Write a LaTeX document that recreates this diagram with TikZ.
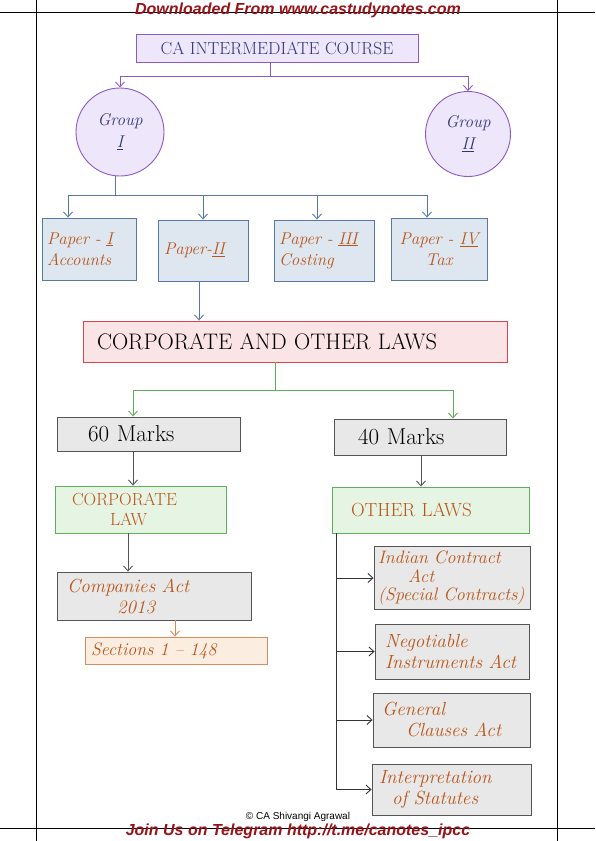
\documentclass[tikz,border=0pt]{standalone}
\usepackage{fontspec}
\usepackage{xcolor}
\newfontfamily\webfont{Liberation Sans}
\usetikzlibrary{calc,arrows.meta}

\definecolor{headred}{RGB}{150,20,25}
\definecolor{courseline}{RGB}{140,90,200}
\definecolor{coursefill}{RGB}{238,230,250}
\definecolor{coursetext}{RGB}{45,55,120}
\definecolor{paperline}{RGB}{90,120,165}
\definecolor{paperfill}{RGB}{222,230,240}
\definecolor{inkbrown}{RGB}{185,85,25}
\definecolor{lawline}{RGB}{215,70,75}
\definecolor{lawfill}{RGB}{250,228,230}
\definecolor{greenline}{RGB}{95,175,90}
\definecolor{greenfill}{RGB}{230,244,228}
\definecolor{greyline}{RGB}{85,85,85}
\definecolor{greyfill}{RGB}{232,232,232}
\definecolor{peachline}{RGB}{215,140,90}
\definecolor{peachfill}{RGB}{252,237,225}

\begin{document}
\begin{tikzpicture}[x=1pt,y=-1pt,
    size/.style 2 args={minimum width=#1pt,minimum height=#2pt},
    sized/.style={font=\fontsize{#1}{#1}\selectfont},
    box/.style={draw,rectangle,line width=0.9pt,inner sep=4pt},
    coursebox/.style={box,draw=courseline,fill=coursefill,text=coursetext,sized=17.5},
    groupnode/.style={circle,draw=courseline,fill=coursefill,line width=0.9pt,text=coursetext,align=center,inner sep=0pt,font=\itshape\fontsize{17}{22}\selectfont},
    paperbox/.style={box,draw=paperline,fill=paperfill,text=inkbrown,font=\itshape\fontsize{17}{21}\selectfont},
    lawbox/.style={box,draw=lawline,fill=lawfill,sized=22.5},
    markbox/.style={box,draw=greyline,fill=greyfill,sized=23},
    greenbox/.style={box,draw=greenline,fill=greenfill,text=inkbrown,sized=19},
    actbox/.style={box,draw=greyline,fill=greyfill,text=inkbrown,font=\itshape\fontsize{19}{21}\selectfont},
    secbox/.style={box,draw=peachline,fill=peachfill,text=inkbrown,font=\itshape\fontsize{18}{20}\selectfont},
    link/.style={line width=0.9pt},
    tip/.style={-{Straight Barb[length=5pt,width=9pt]}},
    webtext/.style={text=headred,font=\webfont\bfseries\itshape\fontsize{16}{18}\selectfont}
  ]
  \useasboundingbox (0,0) rectangle (595,841);

  % page frame
  \draw[line width=0.6pt] (0,12) -- (595,12);
  \draw[line width=0.6pt] (0,828) -- (595,828);
  \draw[line width=0.6pt] (36,0) -- (36,841);
  \draw[line width=0.6pt] (557,0) -- (557,841);

  \node[webtext] (head) at (298,10) {Downloaded From www.castudynotes.com};
  \node[font=\webfont\fontsize{10}{11}\selectfont] (copy) at (298,817) {© CA Shivangi Agrawal};
  \node[webtext] (foot) at (298,831) {Join Us on Telegram http://t.me/canotes\_ipcc};

  % course and groups
  \node[coursebox, size={282}{28}] (course) at (277,48) {CA INTERMEDIATE COURSE};
  \node[groupnode, minimum size=88pt] (g1) at (120,132) {Group\\ \underline{I}};
  \node[groupnode, minimum size=85pt] (g2) at (468,134) {Group\\ \underline{II}};

  % papers
  \node[paperbox, size={94}{62}, text width=84pt, align=left] (p1) at (89,249) {Paper - \underline{I}\\Accounts};
  \node[paperbox, size={90}{61}, text width=78pt, align=left] (p2) at (203,250.5) {Paper-\underline{II}};
  \node[paperbox, size={100}{61}, text width=90pt, align=left] (p3) at (324,250.5) {Paper - \underline{III}\\Costing};
  \node[paperbox, size={96}{62}, align=center] (p4) at (439,249) {Paper - \underline{IV}\\Tax};

  \node[lawbox, size={424}{41}, text width=396pt, align=left] (corp) at (295,341.5) {CORPORATE AND OTHER LAWS};

  \node[markbox, size={183}{34}, text width=121pt, align=left] (m60) at (148.5,434) {60 Marks};
  \node[markbox, size={172}{36}, text width=124pt, align=left] (m40) at (420,437) {40 Marks};

  % corporate law side
  \node[greenbox, size={171}{47}, text width=137pt, align=left, font=\fontsize{17.5}{20}\selectfont] (cl) at (140.5,509.5) {CORPORATE\\\hspace*{38pt}LAW};
  \node[actbox, size={194}{48}, text width=174pt, align=left] (ca) at (154,596) {Companies Act\\\hspace*{50pt}2013};
  \node[secbox, size={182}{27}, text width=170pt, align=left] (sec) at (176,650.5) {Sections 1 -- 148};

  % other laws side
  \node[greenbox, size={197}{46}, text width=159pt, align=left] (ol) at (430.5,510) {OTHER LAWS};
  \node[actbox, size={156}{60}, text width=148pt, align=left, font=\itshape\fontsize{18}{18.5}\selectfont] (ic) at (452,578) {Indian Contract\\\hspace*{30pt}Act\\(Special Contracts)};
  \node[actbox, size={154}{55}, text width=134pt, align=left] (ni) at (452,651.5) {Negotiable\\Instruments Act};
  \node[actbox, size={157}{54}, text width=139pt, align=left] (gc) at (451.5,720) {General\\\hspace*{24pt}Clauses Act};
  \node[actbox, size={159}{51}, text width=145pt, align=left] (is) at (451.5,789.5) {Interpretation\\\hspace*{13pt}of Statutes};

  % connectors
  \coordinate (topbus) at ($(course.south)+(-7,14)$);
  \draw[link,draw=courseline] ([xshift=-7pt]course.south) -- (topbus);
  \draw[link,draw=courseline,tip] (topbus) -| (g1.north);
  \draw[link,draw=courseline,tip] (topbus) -| (g2.north);

  \coordinate (paperbus) at ($(g1.south)+(-5,19)$);
  \draw[link,draw=paperline] ([xshift=-5pt]g1.south) -- (paperbus);
  \foreach \p/\dx in {p1/-21,p2/0,p3/-7,p4/-12}
    \draw[link,draw=paperline,tip] (paperbus) -| ([xshift=\dx pt]\p.north);
  \draw[link,draw=paperline,tip] ([xshift=-4pt]p2.south) -- ([xshift=-4pt]p2.south |- corp.north);

  \coordinate (markbus) at ($(corp.south)+(-20,28)$);
  \draw[link,draw=greenline] ([xshift=-20pt]corp.south) -- (markbus);
  \draw[link,draw=greenline,tip] (markbus) -| ([xshift=-15.5pt]m60.north);
  \draw[link,draw=greenline,tip] (markbus) -| ([xshift=33pt]m40.north);

  \draw[link,draw=greyline,tip] ([xshift=-15.5pt]m60.south) -- ([xshift=-15.5pt]m60.south |- cl.north);
  \draw[link,draw=greyline,tip] ([xshift=1pt]m40.south) -- ([xshift=1pt]m40.south |- ol.north);
  \draw[link,draw=greyline,tip] ([xshift=-12.5pt]cl.south) -- ([xshift=-12.5pt]cl.south |- ca.north);
  \draw[link,draw=peachline,tip] ([xshift=21pt]ca.south) -- ([xshift=21pt]ca.south |- sec.north);

  \coordinate (spine) at ([xshift=5pt]ol.south west);
  \draw[link,draw=black!80] (spine) -- (spine |- is.west);
  \foreach \n in {ic,ni,gc,is}
    \draw[link,draw=black!80,tip] (spine |- \n.west) -- (\n.west);
\end{tikzpicture}
\end{document}
